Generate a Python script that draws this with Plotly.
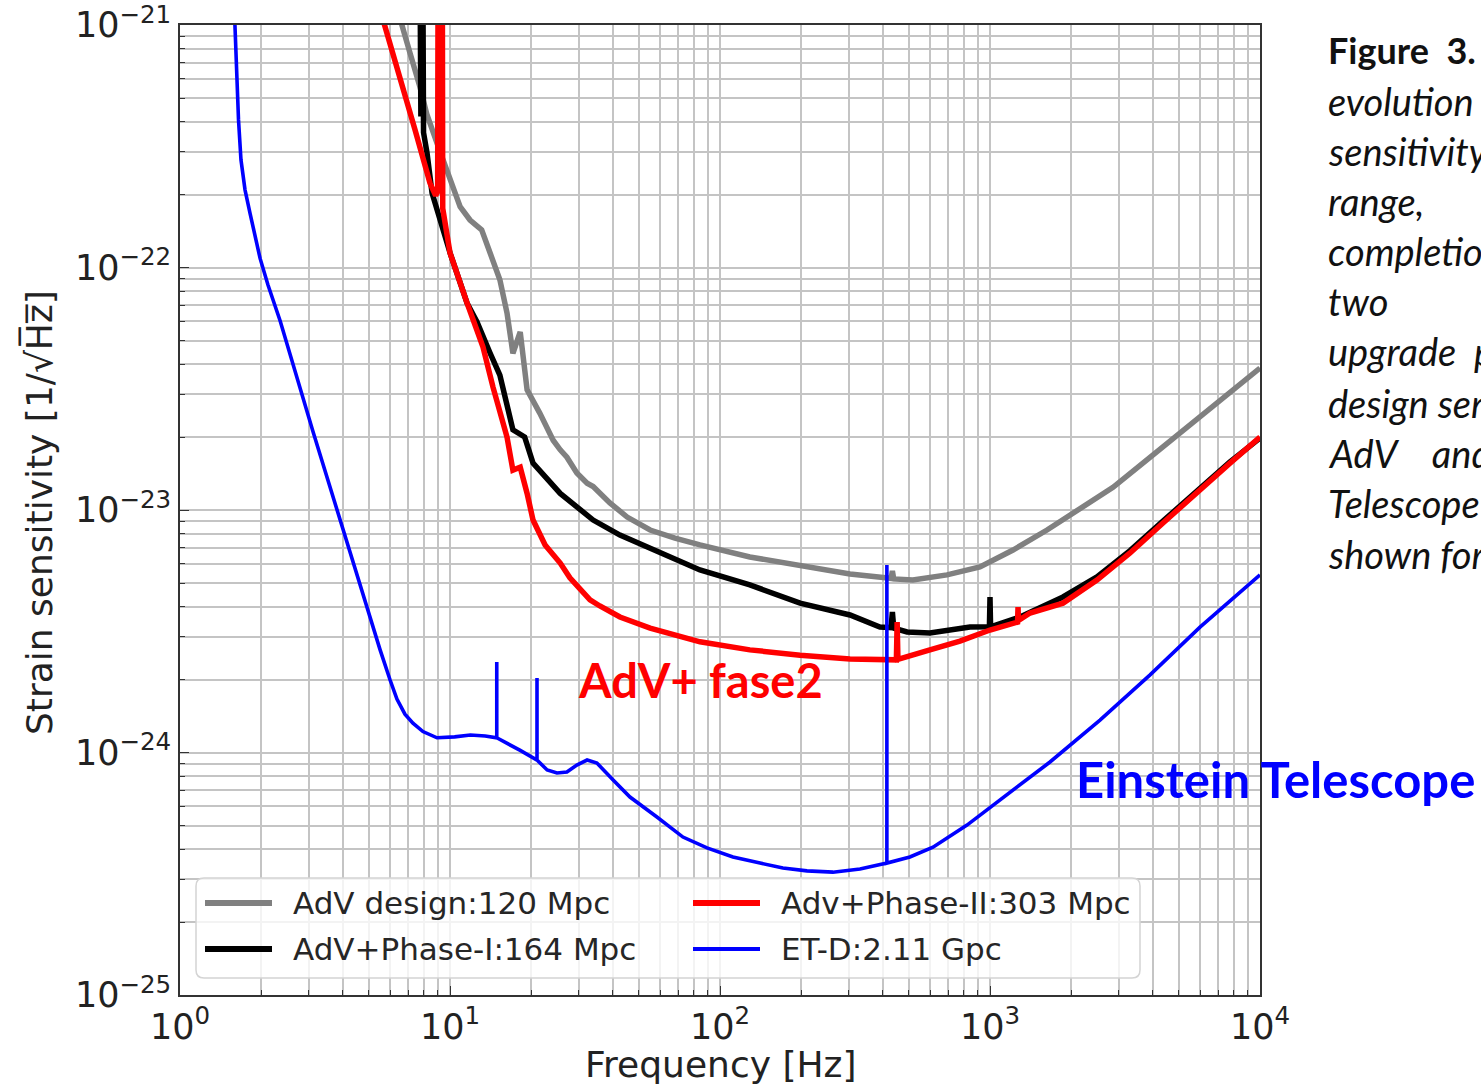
import plotly.graph_objects as go

# ---------------------------------------------------------------------------
# Strain sensitivity curves (amplitude spectral density, 1/sqrt(Hz))
# ---------------------------------------------------------------------------
FREQ_ADV = [6.3, 6.53, 7.11, 7.74, 8.2, 8.95, 9.75, 10.9, 11.86, 13.1,
            14.07, 15.3, 16.26, 17.1, 18.2, 19.3, 21.5, 24.1, 25.6, 27.1,
            29.5, 32.2, 33.9, 39.1, 45.3, 55.1, 68.1, 84.3, 129, 198,
            303, 419, 430, 435, 440, 518, 693, 918, 1217, 1626,
            2154, 2855, 3812, 5054, 6699, 10000]
ASD_ADV = [1.22e-21, 1.05e-21, 7.67e-22, 5.55e-22, 4.3e-22, 3.26e-22, 2.52e-22, 1.78e-22, 1.57e-22, 1.43e-22,
           1.15e-22, 8.9e-23, 6.5e-23, 4.43e-23, 5.42e-23, 3.13e-23, 2.51e-23, 1.94e-23, 1.77e-23, 1.65e-23,
           1.42e-23, 1.29e-23, 1.25e-23, 1.07e-23, 9.35e-24, 8.27e-24, 7.66e-24, 7.18e-24, 6.40e-24, 5.88e-24,
           5.45e-24, 5.24e-24, 5.22e-24, 5.6e-24, 5.2e-24, 5.14e-24, 5.40e-24, 5.82e-24, 6.84e-24, 8.27e-24,
           1.02e-23, 1.24e-23, 1.61e-23, 2.08e-23, 2.66e-23, 3.85e-23]

FREQ_PHASE1 = [7.70, 7.80, 7.90, 7.98, 8.22, 8.58, 9.18, 10.0, 11.56, 12.59,
               14.07, 15.3, 17.1, 17.9, 18.9, 20.3, 22.9, 25.6, 29.5, 33.9,
               42.6, 55.1, 84.3, 129, 198, 303, 391, 430, 435, 440,
               493, 599, 729, 843, 995, 1000, 1005, 1291, 1531, 1864,
               2490, 3302, 4372, 5845, 7743, 10000]
ASD_PHASE1 = [5e-21, 4.2e-22, 5e-21, 3.6e-22, 2.97e-22, 2.03e-22, 1.57e-22, 1.15e-22, 7.14e-23, 5.96e-23,
              4.44e-23, 3.60e-23, 2.14e-23, 2.08e-23, 2.0e-23, 1.56e-23, 1.33e-23, 1.17e-23, 1.03e-23, 9.09e-24,
              7.88e-24, 6.97e-24, 5.66e-24, 4.91e-24, 4.13e-24, 3.69e-24, 3.29e-24, 3.27e-24, 3.8e-24, 3.26e-24,
              3.14e-24, 3.11e-24, 3.2e-24, 3.29e-24, 3.3e-24, 4.38e-24, 3.3e-24, 3.62e-24, 3.94e-24, 4.38e-24,
              5.3e-24, 6.8e-24, 9.0e-24, 1.19e-23, 1.58e-23, 1.98e-23]

FREQ_PHASE2 = [5.5, 5.65, 7.42, 8.43, 8.85, 9.0, 9.05, 9.35, 9.40, 10.0,
               11.56, 13.25, 14.43, 16.26, 17.1, 18.2, 19.3, 20.3, 22.5, 25.6,
               27.8, 30.3, 33.0, 35.9, 42.6, 55.1, 84.3, 129, 198, 303,
               419, 450, 453, 456, 599, 774, 1000, 1265, 1270, 1275,
               1407, 1864, 2490, 3302, 4372, 5845, 7743, 10000]
ASD_PHASE2 = [1.15e-21, 1.05e-21, 3.7e-22, 2.23e-22, 1.98e-22, 2.05e-22, 5e-21, 5e-21, 1.75e-22, 1.15e-22,
              7.14e-23, 4.70e-23, 3.21e-23, 2.0e-23, 1.46e-23, 1.50e-23, 1.17e-23, 9.09e-24, 7.17e-24, 6.04e-24,
              5.25e-24, 4.68e-24, 4.26e-24, 4.02e-24, 3.62e-24, 3.26e-24, 2.86e-24, 2.65e-24, 2.52e-24, 2.43e-24,
              2.41e-24, 2.41e-24, 3.45e-24, 2.42e-24, 2.65e-24, 2.88e-24, 3.2e-24, 3.45e-24, 3.98e-24, 3.5e-24,
              3.76e-24, 4.13e-24, 5.14e-24, 6.65e-24, 8.84e-24, 1.17e-23, 1.56e-23, 2.0e-23]

FREQ_ET = [1.59, 1.62, 1.647, 1.682, 1.741, 1.82, 1.896, 1.98, 2.118, 2.35,
           3.11, 4.16, 5.51, 6.0, 6.36, 6.81, 7.29, 7.94, 8.95, 10.4,
           11.9, 13.5, 14.9, 14.9, 14.9, 18.2, 21.0, 21.0, 21.0, 22.9,
           24.9, 27.1, 29.5, 32.2, 35.0, 40.2, 46.4, 58.4, 72.9, 89.5,
           111.7, 140.7, 171, 210, 262, 330, 415, 415, 415, 505,
           615, 822, 1088, 1668, 2555, 3916, 5995, 10000]
ASD_ET = [1.15e-21, 6.52e-22, 4.06e-22, 2.78e-22, 2.09e-22, 1.66e-22, 1.34e-22, 1.09e-22, 8.47e-23, 6.02e-23,
          2.10e-23, 7.24e-24, 2.65e-24, 1.99e-24, 1.66e-24, 1.44e-24, 1.32e-24, 1.22e-24, 1.15e-24, 1.16e-24,
          1.18e-24, 1.17e-24, 1.15e-24, 2.36e-24, 1.15e-24, 1.02e-24, 9.31e-25, 2.03e-24, 9.31e-25, 8.47e-25,
          8.23e-25, 8.31e-25, 8.88e-25, 9.31e-25, 9.05e-25, 7.70e-25, 6.55e-25, 5.42e-25, 4.48e-25, 4.04e-25,
          3.71e-25, 3.50e-25, 3.34e-25, 3.25e-25, 3.21e-25, 3.31e-25, 3.50e-25, 5.93e-24, 3.50e-25, 3.71e-25,
          4.07e-25, 5.02e-25, 6.37e-25, 9.14e-25, 1.36e-24, 2.09e-24, 3.29e-24, 5.40e-24]

SERIES_NAMES = ["AdV design:120 Mpc", "AdV+Phase-I:164 Mpc",
                "Adv+Phase-II:303 Mpc", "ET-D:2.11 Gpc"]
SERIES_COLORS = ["#808080", "#000000", "#ff0000", "#0000ff"]
SERIES_WIDTHS = [5.5, 5.5, 5.5, 3.6]

X_TICKS = [1, 10, 100, 1000, 10000]
X_TICK_TEXT = ["10<sup>0</sup>", "10<sup>1</sup>", "10<sup>2</sup>",
               "10<sup>3</sup>", "10<sup>4</sup>"]
Y_TICKS = [1e-25, 1e-24, 1e-23, 1e-22, 1e-21]
Y_TICK_TEXT = ["10<sup>\u221225</sup>", "10<sup>\u221224</sup>", "10<sup>\u221223</sup>",
               "10<sup>\u221222</sup>", "10<sup>\u221221</sup>"]

CAPTION_HEAD = "Figure  3."
CAPTION_LINES = ["evolution", "sensitivity", "range,", "completion", "two",
                 "upgrade  p", "design sen", "AdV    and", "Telescope", "shown for"]

# ---------------------------------------------------------------------------
W, H = 1481, 1085
L, R, T, B = 180, 221, 25, 90
PW, PH = W - L - R, H - T - B


def px(x):
    return (x - L) / PW


def py(y):
    return (H - B - y) / PH


minor_x = [m * 10 ** e for e in range(0, 4) for m in range(2, 10)]
minor_y = [m * 10.0 ** e for e in range(-25, -21) for m in range(2, 10)]

fig = go.Figure()
curves = [(FREQ_ADV, ASD_ADV), (FREQ_PHASE1, ASD_PHASE1),
          (FREQ_PHASE2, ASD_PHASE2), (FREQ_ET, ASD_ET)]
for (f, a), name, col, lw in zip(curves, SERIES_NAMES, SERIES_COLORS, SERIES_WIDTHS):
    fig.add_trace(go.Scatter(x=f, y=a, mode="lines", name=name,
                             line=dict(color=col, width=lw), showlegend=False))

grid_col = "#c4c4c4"
tick_font = dict(family="DejaVu Sans", size=35, color="#222222")
axis_common = dict(
    type="log", showline=True, linecolor="#333333", linewidth=1.6, mirror=True,
    ticks="inside", ticklen=9, tickwidth=1.4, tickcolor="#333333",
    showgrid=True, gridcolor=grid_col, gridwidth=1.6, zeroline=False,
    tickfont=tick_font, tickmode="array", automargin=False,
    ticklabeloverflow="allow",
)
fig.update_xaxes(range=[0, 4], tickvals=X_TICKS, ticktext=X_TICK_TEXT,
                 minor=dict(tickvals=minor_x, ticks="inside", ticklen=5,
                            tickcolor="#333333", showgrid=True,
                            gridcolor=grid_col, gridwidth=1.6),
                 **axis_common)
fig.update_yaxes(range=[-25, -21], tickvals=Y_TICKS, ticktext=Y_TICK_TEXT,
                 minor=dict(tickvals=minor_y, ticks="inside", ticklen=5,
                            tickcolor="#333333", showgrid=True,
                            gridcolor=grid_col, gridwidth=1.6),
                 **axis_common)

annotations = []
# axis titles
annotations.append(dict(xref="paper", yref="paper", x=0.5, y=py(1064),
                        text="Frequency [Hz]", showarrow=False,
                        font=dict(family="DejaVu Sans", size=36, color="#222222"),
                        xanchor="center", yanchor="middle"))
annotations.append(dict(xref="paper", yref="paper", x=px(39), y=py(513),
                        text="Strain sensitivity [1/\u221aH\u0305z\u0305]",
                        textangle=-90, showarrow=False,
                        font=dict(family="DejaVu Sans", size=36, color="#222222"),
                        xanchor="center", yanchor="middle"))

# legend (two columns, column-major order)
shapes = []
x0, x1, y0, y1, r = 196, 1140, 878, 978, 8
box = (f"M {px(x0 + r)},{py(y0)} L {px(x1 - r)},{py(y0)} "
       f"Q {px(x1)},{py(y0)} {px(x1)},{py(y0 + r)} L {px(x1)},{py(y1 - r)} "
       f"Q {px(x1)},{py(y1)} {px(x1 - r)},{py(y1)} L {px(x0 + r)},{py(y1)} "
       f"Q {px(x0)},{py(y1)} {px(x0)},{py(y1 - r)} L {px(x0)},{py(y0 + r)} "
       f"Q {px(x0)},{py(y0)} {px(x0 + r)},{py(y0)} Z")
shapes.append(dict(type="path", xref="paper", yref="paper", path=box,
                   fillcolor="rgba(255,255,255,0.8)",
                   line=dict(color="#d4d4d4", width=1.5), layer="above"))
slots = [(205, 903), (205, 949), (693, 903), (693, 949)]
for (sx, sy), name, col, lw in zip(slots, SERIES_NAMES, SERIES_COLORS, SERIES_WIDTHS):
    shapes.append(dict(type="line", xref="paper", yref="paper",
                       x0=px(sx), x1=px(sx + 67), y0=py(sy), y1=py(sy),
                       line=dict(color=col, width=lw + 0.5), layer="above"))
    annotations.append(dict(xref="paper", yref="paper", x=px(sx + 86), y=py(sy),
                            text=name, showarrow=False, xanchor="left",
                            yanchor="middle",
                            font=dict(family="DejaVu Sans", size=31, color="#262626")))

# curve labels
annotations.append(dict(xref="paper", yref="paper", x=px(700), y=py(680),
                        text="<b>AdV+ fase2</b>", showarrow=False,
                        xanchor="center", yanchor="middle",
                        font=dict(family="Lato", size=47, color="#ff0000")))
annotations.append(dict(xref="paper", yref="paper", x=px(1074), y=py(779),
                        text="<b>Einstein Telescope</b>", showarrow=False,
                        xanchor="left", yanchor="middle",
                        font=dict(family="Lato", size=49, color="#0000ff")))

# caption column on the right
annotations.append(dict(xref="paper", yref="paper", x=px(1326), y=py(50),
                        text=f"<b>{CAPTION_HEAD}</b>", showarrow=False,
                        xanchor="left", yanchor="middle",
                        font=dict(family="Lato", size=36, color="#111111")))
cap_y = [101, 151, 201, 251, 301, 351, 403, 453, 503, 554]
for yy, line in zip(cap_y, CAPTION_LINES):
    annotations.append(dict(xref="paper", yref="paper", x=px(1326), y=py(yy),
                            text=f"<i>{line}</i>", showarrow=False,
                            xanchor="left", yanchor="middle",
                            font=dict(family="Lato", size=38, color="#111111")))

fig.update_layout(
    width=W, height=H, autosize=False,
    margin=dict(l=L, r=R, t=T, b=B, pad=0),
    paper_bgcolor="white", plot_bgcolor="white",
    showlegend=False,
    annotations=annotations, shapes=shapes,
)

fig.write_html("out.html")
